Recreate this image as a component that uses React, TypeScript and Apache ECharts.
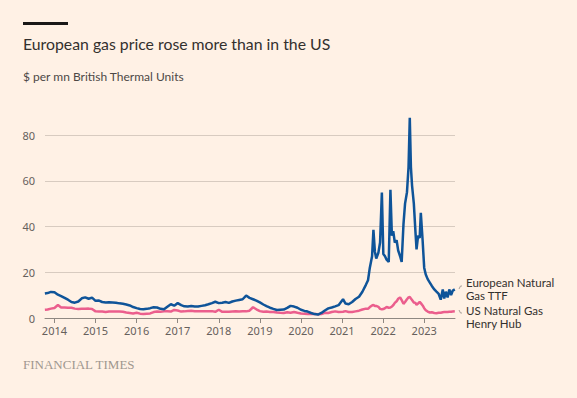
import React, { useEffect, useRef } from "react";
import * as echarts from "echarts";

const dates: string[] = [
  "2013-10-08","2013-11-01","2013-12-01","2014-01-01","2014-02-01","2014-03-01","2014-04-01","2014-05-01","2014-06-01","2014-07-01","2014-08-01","2014-09-01","2014-10-01","2014-11-01","2014-12-01",
  "2015-01-01","2015-02-01","2015-03-01","2015-04-01","2015-05-01","2015-06-01","2015-07-01","2015-08-01","2015-09-01","2015-10-01","2015-11-01","2015-12-01",
  "2016-01-01","2016-02-01","2016-03-01","2016-04-01","2016-05-01","2016-06-01","2016-07-01","2016-08-01","2016-09-01","2016-10-01","2016-11-01","2016-12-01",
  "2017-01-01","2017-02-01","2017-03-01","2017-04-01","2017-05-01","2017-06-01","2017-07-01","2017-08-01","2017-09-01","2017-10-01","2017-11-01","2017-12-01",
  "2018-01-01","2018-02-01","2018-03-01","2018-04-01","2018-05-01","2018-06-01","2018-07-01","2018-08-01","2018-09-01","2018-10-01","2018-11-01","2018-12-01",
  "2019-01-01","2019-02-01","2019-03-01","2019-04-01","2019-05-01","2019-06-01","2019-07-01","2019-08-01","2019-09-01","2019-10-01","2019-11-01","2019-12-01",
  "2020-01-01","2020-02-01","2020-03-01","2020-04-01","2020-05-01","2020-06-01","2020-07-01","2020-08-01","2020-09-01","2020-10-01","2020-11-01","2020-12-01",
  "2021-01-10","2021-02-01","2021-03-01","2021-04-01","2021-05-01","2021-06-01","2021-07-01","2021-08-01","2021-08-20","2021-09-05","2021-09-25","2021-10-07","2021-10-20","2021-11-01","2021-11-20","2021-12-05","2021-12-21",
  "2022-01-03","2022-01-18","2022-02-01","2022-02-20","2022-03-07","2022-03-20","2022-04-01","2022-04-15","2022-05-01","2022-05-15","2022-06-01","2022-06-15","2022-07-01","2022-07-15","2022-08-01","2022-08-15","2022-08-26","2022-09-05","2022-09-15","2022-10-01","2022-10-15","2022-10-25","2022-11-08","2022-11-22","2022-12-02","2022-12-18",
  "2023-01-01","2023-01-15","2023-02-01","2023-02-20","2023-03-10","2023-04-01","2023-04-20","2023-05-10","2023-05-28","2023-06-15","2023-06-28","2023-07-12","2023-07-28","2023-08-12","2023-08-28","2023-09-12","2023-09-30",
];

const ttf: number[] = [
  10.7,10.9,11.4,11.3,10.2,9.6,8.8,8.0,7.0,6.7,7.2,8.6,9.0,8.4,8.9,
  7.5,7.6,7.0,6.8,6.9,6.8,6.7,6.4,6.2,5.9,5.5,4.8,
  4.3,3.9,3.8,4.0,4.3,4.7,4.6,4.0,3.8,4.9,6.0,5.4,
  6.5,5.6,5.1,5.0,5.2,5.0,5.0,5.3,5.6,6.0,6.5,7.1,
  6.5,6.7,7.0,6.6,7.2,7.6,7.9,8.2,9.8,8.8,8.2,7.6,
  6.8,5.9,5.2,4.5,4.0,3.5,3.6,3.7,4.4,5.3,5.0,4.5,
  3.6,3.1,2.8,2.2,1.7,1.5,2.2,3.3,4.2,4.6,5.1,5.6,
  8.2,6.3,6.0,7.0,8.3,9.3,11.5,14.5,16.5,22.0,27.0,38.5,29.0,26.0,28.5,33.0,54.8,
  28.0,27.0,25.5,24.5,56.0,36.0,38.0,33.0,34.0,29.5,27.0,24.5,41.0,50.0,55.0,66.0,87.5,66.0,58.0,50.0,38.0,30.0,36.0,35.0,46.0,34.0,
  22.0,19.0,17.0,15.5,14.0,12.5,11.5,10.5,8.0,12.5,8.5,11.5,9.0,12.5,10.0,12.0,12.5,
];

const henryHub: number[] = [
  3.6,3.7,4.1,4.4,5.7,4.6,4.6,4.5,4.5,4.1,3.9,4.0,4.0,4.1,3.9,
  2.9,2.8,2.8,2.6,2.8,2.8,2.8,2.8,2.7,2.4,2.2,2.0,
  2.3,1.9,1.7,1.9,2.0,2.6,2.8,2.7,2.9,3.0,2.8,3.5,
  3.3,2.8,2.9,3.1,3.2,3.0,2.9,2.9,3.0,2.9,3.0,2.7,
  3.6,2.7,2.7,2.7,2.8,2.9,2.8,2.9,2.9,3.2,4.7,3.8,
  3.0,2.7,2.8,2.6,2.6,2.4,2.3,2.2,2.5,2.3,2.6,2.3,
  2.0,1.9,1.8,1.7,1.8,1.6,1.7,2.3,2.2,2.6,2.9,2.6,
  2.7,3.0,2.6,2.6,2.9,3.2,3.7,4.1,4.0,4.8,5.5,5.7,5.3,5.3,4.9,4.0,3.8,
  3.9,4.3,4.8,4.5,4.6,5.0,5.6,6.6,7.3,8.4,9.0,7.8,6.2,7.0,8.2,9.0,9.2,8.5,7.9,6.8,6.6,5.8,6.3,7.0,6.5,5.5,
  4.3,3.4,2.8,2.4,2.5,2.2,2.1,2.3,2.3,2.5,2.6,2.6,2.6,2.7,2.7,2.8,2.9,
];

const yearTicks: number[] = [2014, 2015, 2016, 2017, 2018, 2019, 2020, 2021, 2022, 2023];

const title = "European gas price rose more than in the US";
const subtitle = "$ per mn British Thermal Units";
const ttfLabel = "European Natural\nGas TTF";
const hhLabel = "US Natural Gas\nHenry Hub";
const source = "FINANCIAL TIMES";

function toYear(d: string): number {
  const [y, m, day] = d.split("-").map(Number);
  const start = Date.UTC(y, 0, 1);
  const t = Date.UTC(y, m - 1, day);
  const len = Date.UTC(y + 1, 0, 1) - start;
  return y + (t - start) / len;
}

export default function App() {
  const ref = useRef<HTMLDivElement>(null);
  useEffect(() => {
    if (!ref.current) return;
    const chart = echarts.init(ref.current, undefined, { renderer: "svg" });
    const xs = dates.map(toYear);
    const font = "'Noto Sans', sans-serif";
    const font2 = "Lato, 'Noto Sans', sans-serif";
    chart.setOption({
      animation: false,
      backgroundColor: "#fff1e5",
      grid: { left: 45, right: 122, top: 135, bottom: 80 },
      xAxis: {
        type: "value",
        min: 2013.77,
        max: 2023.75,
        splitLine: { show: false },
        axisLine: { show: true, onZero: false, lineStyle: { color: "#8f8882", width: 1 } },
        axisTick: { show: true, length: 5, customValues: yearTicks, lineStyle: { color: "#8f8882" } },
        axisLabel: {
          customValues: yearTicks,
          formatter: (v: number) => String(Math.round(v)),
          color: "#66605c",
          fontSize: 11,
          fontFamily: font,
          margin: 7,
        },
      },
      yAxis: {
        type: "value",
        min: 0,
        max: 80,
        interval: 20,
        axisLine: { show: false },
        axisTick: { show: false },
        splitLine: { lineStyle: { color: "#d8cbc0", width: 1 } },
        axisLabel: { color: "#66605c", fontSize: 11, fontFamily: font, margin: 10 },
      },
      series: [
        {
          name: "European Natural Gas TTF",
          type: "line",
          data: xs.map((x, i) => [x, ttf[i]]),
          showSymbol: false,
          clip: false,
          lineStyle: { color: "#0f5499", width: 2.5 },
          itemStyle: { color: "#0f5499" },
          z: 3,
        },
        {
          name: "US Natural Gas Henry Hub",
          type: "line",
          data: xs.map((x, i) => [x, henryHub[i]]),
          showSymbol: false,
          clip: false,
          lineStyle: { color: "#eb5e8d", width: 2.5 },
          itemStyle: { color: "#eb5e8d" },
          z: 2,
        },
      ],
      graphic: [
        { type: "rect", left: 23, top: 22, shape: { width: 45, height: 3 }, style: { fill: "#1a1817" } },
        {
          type: "text",
          left: 23,
          top: 35,
          style: { text: title, fill: "#33302e", fontSize: 15.8, fontFamily: font2 },
        },
        {
          type: "text",
          left: 23,
          top: 70,
          style: { text: subtitle, fill: "#4d4845", fontSize: 12, fontFamily: font2 },
        },
        {
          type: "text",
          left: 466,
          top: 276,
          style: { text: ttfLabel, fill: "#33302e", fontSize: 11.5, lineHeight: 13.2, fontFamily: font2 },
        },
        {
          type: "text",
          left: 466,
          top: 304,
          style: { text: hhLabel, fill: "#33302e", fontSize: 11.5, lineHeight: 13.2, fontFamily: font2 },
        },
        {
          type: "polyline",
          shape: { points: [[459, 289], [460.5, 286], [462, 286]] },
          style: { stroke: "#a8a09a", lineWidth: 1, fill: null },
        },
        {
          type: "polyline",
          shape: { points: [[459, 310], [460.5, 313], [462, 313]] },
          style: { stroke: "#a8a09a", lineWidth: 1, fill: null },
        },
        {
          type: "text",
          left: 23,
          top: 358,
          style: { text: source, fill: "#a0978f", fontSize: 13, fontFamily: "'Liberation Serif', 'DejaVu Serif', serif" },
        },
      ],
    });
    return () => chart.dispose();
  }, []);
  return (
    <div
      ref={ref}
      style={{ position: "fixed", left: 0, top: 0, width: 577, height: 398, background: "#fff1e5" }}
    />
  );
}
